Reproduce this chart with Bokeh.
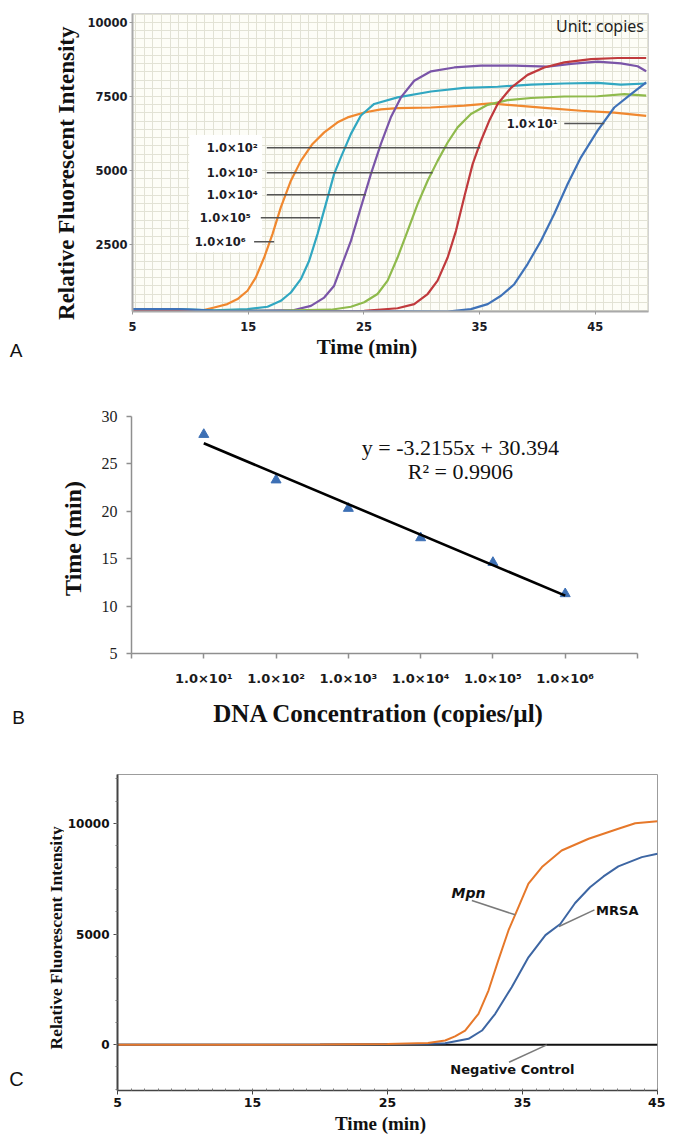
import math
from bokeh.plotting import figure
from bokeh.layouts import column, row
from bokeh.models import Label, FixedTicker, SingleIntervalTicker, BoxAnnotation, Spacer
from bokeh.embed import file_html
from bokeh.resources import INLINE

# ---------------- Panel A data (amplification curves) ----------------
a_names = ["1.0×10⁶", "1.0×10⁵", "1.0×10⁴", "1.0×10³", "1.0×10²", "1.0×10¹"]
a_colors = ["#f0882f", "#31a7c1", "#7a55a8", "#8fba4c", "#c03a3d", "#3f72b8"]

a_t_1e6 = [5, 8, 10.9, 12.06, 13.2, 14.08, 14.94, 15.66, 16.38, 17.1, 17.82, 18.69, 19.55, 20.56,
           21.57, 22.73, 23.59, 25.03, 26.47, 27.91, 30.8, 33.67, 35.98, 38.29, 40.88, 43.76, 46.64, 49.4]
a_v_1e6 = [290, 280, 274, 385, 500, 670, 950, 1400, 2070, 2860, 3760, 4660, 5330, 5900,
           6290, 6630, 6795, 6960, 7065, 7110, 7130, 7190, 7270, 7190, 7110, 7020, 6960, 6850]

a_t_1e5 = [5, 9, 12, 14.94, 16.67, 17.82, 18.69, 19.55, 20.27, 20.99, 21.71, 22.43, 23.01, 23.88,
           24.74, 25.89, 27.91, 30.8, 33.67, 36.56, 39.44, 42.32, 45.2, 47.22, 49.4]
a_v_1e5 = [330, 330, 290, 330, 410, 610, 890, 1340, 1960, 2860, 3870, 4890, 5450, 6240,
           6860, 7250, 7470, 7670, 7790, 7830, 7900, 7940, 7960, 7900, 7940]

a_t_1e4 = [5, 10, 15, 18.97, 20.42, 21.57, 22.43, 23.01, 23.88, 24.74, 25.61, 26.47, 27.33, 28.2,
           29.35, 30.8, 32.81, 35.12, 38, 40.88, 42.9, 45.2, 47.22, 48.66, 49.4]
a_v_1e4 = [270, 260, 270, 300, 440, 720, 1120, 1730, 2630, 3760, 4890, 5900, 6800, 7470,
           8030, 8350, 8480, 8540, 8540, 8510, 8600, 8680, 8620, 8520, 8350]

a_t_1e3 = [5, 12, 18, 22.15, 23.88, 25.03, 26.18, 27.05, 27.91, 28.78, 29.64, 30.51, 31.37, 32.24,
           33.1, 34.25, 35.7, 37.42, 39.44, 42.32, 45.2, 47.51, 49.4]
a_v_1e3 = [270, 270, 280, 310, 410, 560, 840, 1290, 2070, 2970, 3870, 4660, 5330, 5950,
           6460, 6910, 7220, 7380, 7450, 7500, 7510, 7580, 7530]

a_t_1e2 = [5, 15, 22, 25.03, 27.91, 29.35, 30.51, 31.37, 32.24, 32.96, 33.67, 34.4, 35.12, 35.83,
           36.56, 37.71, 39.15, 40.59, 42.32, 44.63, 46.94, 49.4]
a_v_1e2 = [260, 260, 265, 270, 360, 500, 840, 1290, 2070, 2970, 4100, 5220, 6010, 6680,
           7250, 7790, 8230, 8480, 8650, 8760, 8800, 8800]

a_t_1e1 = [5, 9, 12, 20, 28, 32.24, 34.25, 35.7, 36.85, 38, 39.15, 40.3, 41.45, 42.61, 43.76,
           45.2, 46.64, 48.09, 49.4]
a_v_1e1 = [330, 330, 280, 260, 255, 250, 330, 500, 780, 1170, 1850, 2630, 3540, 4550, 5450,
           6350, 7130, 7580, 7980]

a_xticks = [5, 15, 25, 35, 45]
a_yticks = [2500, 5000, 7500, 10000]

# ---------------- Panel B data (standard curve) ----------------
b_categories = ["1.0×10¹", "1.0×10²", "1.0×10³", "1.0×10⁴", "1.0×10⁵", "1.0×10⁶"]
b_times = [28.1, 23.3, 20.3, 17.2, 14.6, 11.3]
b_slope = -3.2155
b_intercept = 30.394
b_r2 = 0.9906
b_yticks = [5, 10, 15, 20, 25, 30]

# ---------------- Panel C data (Mpn / MRSA / negative control) ----------------
c_t_mpn = [5, 15, 20, 25, 28, 29.27, 30.0, 30.75, 31.74, 32.48, 33.2, 33.96, 34.7, 35.44, 36.44,
           37.9, 39.9, 42.1, 43.35, 45]
c_v_mpn = [0, 0, 10, 40, 80, 194, 380, 645, 1400, 2450, 3800, 5160, 6210, 7270, 8020,
           8770, 9300, 9750, 10000, 10090]
c_t_mrsa = [5, 15, 20, 25, 28, 29.27, 31, 32, 32.98, 34.2, 35.44, 36.7, 37.8, 38.9, 40.0,
            41.0, 42.1, 43.84, 45]
c_v_mrsa = [0, 0, 10, 40, 50, 70, 270, 645, 1400, 2600, 3950, 4950, 5450, 6400, 7110,
            7600, 8050, 8470, 8620]
c_t_neg = [5, 45]
c_v_neg = [0, 0]
c_xticks = [5, 15, 25, 35, 45]
c_yticks = [0, 5000, 10000]

BOLD_SANS = "DejaVu Sans"
SERIF = "Liberation Serif"


def text_strip(w, h):
    """Axis-free figure whose data units are pixels measured from its top-left corner."""
    s = figure(width=w, height=h, x_range=(0, w), y_range=(h, 0), output_backend="svg",
               toolbar_location=None, min_border=0, x_axis_location=None, y_axis_location=None)
    s.outline_line_color = None
    s.grid.visible = False
    return s


def put(fig, x, y, text, size, font=SERIF, style="bold", angle=0.0, align="center"):
    fig.add_layout(Label(x=x, y=y, text=text, angle=angle, text_align=align,
                         text_baseline="middle", text_font=font, text_font_style=style,
                         text_font_size=size, text_color="#111111"))


# ======================= Panel A =======================
pA = figure(width=586, height=335, x_range=(5, 49.6), y_range=(250, 10300),
            output_backend="svg", toolbar_location=None,
            min_border_left=50, min_border_right=20, min_border_top=13, min_border_bottom=24)
pA.background_fill_color = "#fdfdf7"
pA.outline_line_color = "#d2d2d2"
pA.xgrid.ticker = SingleIntervalTicker(interval=0.75)
pA.ygrid.ticker = SingleIntervalTicker(interval=2500 / 9)
for g in (pA.xgrid, pA.ygrid):
    g.grid_line_color = "#e2e2d5"
    g.grid_line_width = 1

pA.add_layout(BoxAnnotation(left=9.9, right=16.2, bottom=2250, top=6200, fill_color="white",
                            fill_alpha=1.0, line_color=None, level="underlay"))

pA.xaxis.ticker = FixedTicker(ticks=a_xticks, minor_ticks=[])
pA.yaxis.ticker = FixedTicker(ticks=a_yticks, minor_ticks=[])
for ax in (pA.xaxis[0], pA.yaxis[0]):
    ax.axis_line_color = "#a9a9a9"
    ax.axis_line_width = 2
    ax.major_tick_line_color = "#999999"
    ax.major_tick_out = 3
    ax.major_tick_in = 0
    ax.minor_tick_out = 0
    ax.minor_tick_in = 0
    ax.major_label_text_font = BOLD_SANS
    ax.major_label_text_font_style = "bold"
    ax.major_label_text_font_size = "11.5px"
    ax.major_label_text_color = "#1b1b26"
pA.xaxis.major_label_standoff = 7
pA.yaxis.major_label_standoff = 2

a_ts = [a_t_1e6, a_t_1e5, a_t_1e4, a_t_1e3, a_t_1e2, a_t_1e1]
a_vs = [a_v_1e6, a_v_1e5, a_v_1e4, a_v_1e3, a_v_1e2, a_v_1e1]
for t, v, c in zip(a_ts, a_vs, a_colors):
    pA.line(t, v, line_color=c, line_width=2.2)

a_label_layout = [  # (name index, text right edge, leader start, leader end, level)
    (4, 15.83, 16.61, 35.06, 5773),
    (3, 15.83, 16.61, 30.94, 4929),
    (2, 15.83, 16.61, 25.17, 4187),
    (1, 15.23, 16.09, 21.22, 3411),
    (0, 14.80, 15.51, 17.24, 2601),
    (5, 41.75, 42.32, 45.78, 6590),
]
pA.segment([r[2] for r in a_label_layout], [r[4] for r in a_label_layout],
           [r[3] for r in a_label_layout], [r[4] for r in a_label_layout],
           line_color="#555555", line_width=1.6)
for idx, xr, _, _, yv in a_label_layout:
    pA.add_layout(Label(x=xr, y=yv, text=a_names[idx], text_align="right", text_baseline="middle",
                        text_font=BOLD_SANS, text_font_style="bold", text_font_size="11.5px",
                        text_color="#1b1b26", background_fill_color="white"))
pA.add_layout(Label(x=49.21, y=9890, text="Unit: copies", text_align="right", text_baseline="middle",
                    text_font="Noto Sans", text_font_size="16px", text_color="#222222"))

leftA = text_strip(82, 330)        # placed 1px below the row top
put(leftA, 66, 166, "Relative  Fluorescent  Intensity", "23px", angle=math.pi / 2)
botA = text_strip(600, 43)         # page y 335..378
put(botA, 366.5, 11.7, "Time (min)", "21px")
put(botA, 15.5, 15, "A", "19px", font="Liberation Sans", style="normal")

# ======================= Panel B =======================
pB = figure(width=575, height=312, x_range=(0, len(b_categories) + 1), y_range=(5, 30),
            output_backend="svg", toolbar_location=None,
            min_border_left=39, min_border_right=30, min_border_top=38, min_border_bottom=37)
pB.outline_line_color = None
pB.grid.visible = False
b_x = list(range(1, len(b_categories) + 1))
pB.xaxis.ticker = FixedTicker(ticks=list(range(0, len(b_categories) + 2)), minor_ticks=[])
pB.xaxis.major_label_overrides = {i: (b_categories[i - 1] if 1 <= i <= len(b_categories) else "")
                                  for i in range(0, len(b_categories) + 2)}
pB.yaxis.ticker = FixedTicker(ticks=b_yticks, minor_ticks=[])
for ax in (pB.xaxis[0], pB.yaxis[0]):
    ax.axis_line_color = "#8f8f8f"
    ax.axis_line_width = 1.5
    ax.major_tick_line_color = "#8f8f8f"
    ax.major_tick_line_width = 1.5
    ax.major_tick_out = 5
    ax.major_tick_in = 0
    ax.minor_tick_out = 0
    ax.minor_tick_in = 0
pB.yaxis.major_label_text_font = SERIF
pB.yaxis.major_label_text_font_size = "16px"
pB.yaxis.major_label_text_color = "#222222"
pB.yaxis.major_label_standoff = 9
pB.xaxis.major_label_text_font = BOLD_SANS
pB.xaxis.major_label_text_font_style = "bold"
pB.xaxis.major_label_text_font_size = "13px"
pB.xaxis.major_label_text_color = "#1a1a1a"
pB.xaxis.major_label_standoff = 12

pB.scatter(b_x, b_times, marker="triangle", size=10, fill_color="#3d70b5", line_color="#3d70b5")
fit_x = [b_x[0], b_x[-1]]
fit_y = [b_slope * x + b_intercept for x in fit_x]
pB.line(fit_x, fit_y, line_color="black", line_width=2.6)
pB.add_layout(Label(x=4.55, y=26.77, text=f"y = {b_slope}x + {b_intercept}", text_align="center",
                    text_baseline="middle", text_font=SERIF, text_font_size="22px",
                    text_color="#111111"))
pB.add_layout(Label(x=4.55, y=24.24, text=f"R² = {b_r2}", text_align="center",
                    text_baseline="middle", text_font=SERIF, text_font_size="22px",
                    text_color="#111111"))

leftB = text_strip(92, 300)        # page y 379..679
put(leftB, 72.5, 159, "Time (min)", "24px", angle=math.pi / 2)
botB = text_strip(601, 55)         # page y 690..745
put(botB, 378.3, 23, "DNA Concentration (copies/µl)", "25px")
put(botB, 18, 27, "B", "19px", font="Liberation Sans", style="normal")

# ======================= Panel C =======================
pC = figure(width=601, height=366, x_range=(5, 45), y_range=(-2062, 12199),
            output_backend="svg", toolbar_location=None,
            min_border_left=53, min_border_right=8, min_border_top=29, min_border_bottom=21)
pC.outline_line_color = "#9c9c9c"
pC.grid.visible = False
pC.xaxis.ticker = FixedTicker(ticks=c_xticks, minor_ticks=list(range(5, 46)))
pC.yaxis.ticker = FixedTicker(ticks=c_yticks, minor_ticks=list(range(-2000, 12001, 1000)))
for ax in (pC.xaxis[0], pC.yaxis[0]):
    ax.axis_line_color = "#444444"
    ax.major_tick_line_color = "#444444"
    ax.minor_tick_line_color = "#777777"
    ax.major_tick_out = 4
    ax.major_tick_in = 0
    ax.major_label_text_font = BOLD_SANS
    ax.major_label_text_font_style = "bold"
    ax.major_label_text_color = "#111111"
pC.yaxis.axis_line_width = 2
pC.xaxis.axis_line_width = 1.5
pC.yaxis.minor_tick_out = 2
pC.yaxis.minor_tick_in = 0
pC.xaxis.minor_tick_out = 0
pC.xaxis.minor_tick_in = 2
pC.yaxis.major_label_text_font_size = "12px"
pC.xaxis.major_label_text_font_size = "12.5px"
pC.yaxis.major_label_standoff = 4
pC.xaxis.major_label_standoff = 3

pC.line(c_t_neg, c_v_neg, line_color="#111111", line_width=2)
pC.line(c_t_mrsa, c_v_mrsa, line_color="#3d66a3", line_width=2)
pC.line(c_t_mpn, c_v_mpn, line_color="#e6782a", line_width=2)

c_leaders = [((31.25, 6510), (34.46, 5866)), ((40.33, 6090), (37.7, 5340)), ((36.8, 0), (34.0, -785))]
pC.segment([l[0][0] for l in c_leaders], [l[0][1] for l in c_leaders],
           [l[1][0] for l in c_leaders], [l[1][1] for l in c_leaders],
           line_color="#7a7a7a", line_width=1.5)
pC.add_layout(Label(x=31.0, y=6840, text="Mpn", text_align="center", text_baseline="middle",
                    text_font=BOLD_SANS, text_font_style="bold italic", text_font_size="14px",
                    text_color="#111111"))
pC.add_layout(Label(x=40.45, y=6060, text="MRSA", text_align="left", text_baseline="middle",
                    text_font=BOLD_SANS, text_font_style="bold", text_font_size="13px",
                    text_color="#111111"))
pC.add_layout(Label(x=34.25, y=-1115, text="Negative Control", text_align="center",
                    text_baseline="middle", text_font=BOLD_SANS, text_font_style="bold",
                    text_font_size="13px", text_color="#111111"))

leftC = text_strip(64, 360)        # page y 746..1106
put(leftC, 55, 187, "Relative  Fluorescent  Intensity", "17.5px", angle=math.pi / 2)
put(leftC, 16, 332, "C", "20px", font="Liberation Sans", style="normal")
botC = text_strip(602, 23)         # page y 1111..1134
put(botC, 380, 12, "Time (min)", "19px")

layout = column(
    row(column(Spacer(height=1), leftA, spacing=0), pA, spacing=0),
    botA,
    row(column(Spacer(height=1), leftB, spacing=0), pB, spacing=0),
    botB,
    row(column(Spacer(height=1), leftC, spacing=0), pC, spacing=0),
    botC,
    spacing=0,
)
with open("out.html", "w") as f:
    f.write(file_html(layout, INLINE))
